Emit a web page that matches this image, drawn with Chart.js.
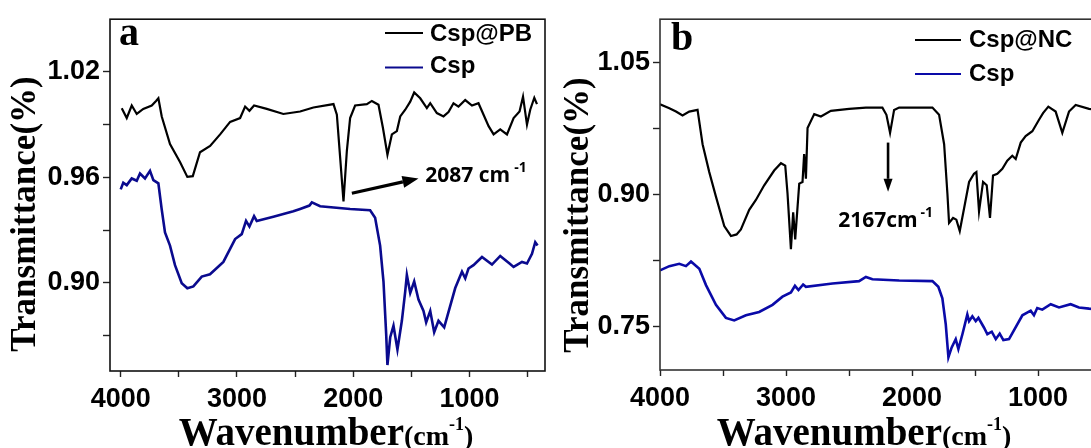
<!DOCTYPE html>
<html>
<head>
<meta charset="utf-8">
<script src="https://cdn.jsdelivr.net/npm/chart.js@4/dist/chart.umd.min.js"></script>
<style>
  html, body { margin: 0; padding: 0; background: #fff; width: 1091px; height: 448px; overflow: hidden; }
  .panel { position: absolute; top: 0; height: 448px; }
  #pa { left: 0; width: 560px; }
  #pb { left: 550px; width: 560px; }
</style>
</head>
<body>
<div class="panel" id="pa"><canvas id="ca"></canvas></div>
<div class="panel" id="pb"><canvas id="cb"></canvas></div>
<script>
// ---------------- Panel a data ----------------
const waveA_PB = [3991,3948,3905,3862,3806,3733,3696,3676,3647,3576,3490,3427,3380,3318,3231,3145,3059,2973,2930,2893,2853,2744,2601,2457,2343,2170,2141,2113,2084,2055,2027,1984,1883,1840,1783,1745,1706,1668,1625,1596,1553,1510,1476,1424,1367,1338,1281,1224,1181,1138,1095,1037,979,923,836,793,736,678,621,570,540,506,478,443,420];
const transA_PB = [0.9992,0.9936,1.0007,0.9959,0.9988,1.0007,1.0033,1.0048,0.9945,0.9788,0.9686,0.9602,0.9606,0.9742,0.9778,0.9843,0.9914,0.9936,1.0001,0.9977,1.0007,0.9988,0.9959,0.9973,0.9996,1.0015,0.9955,0.9714,0.9463,0.9750,0.9936,1.0007,1.0015,1.0033,1.0011,0.9881,0.9728,0.9843,0.9862,0.9945,0.9983,1.0029,1.0081,1.0048,0.9992,1.0020,0.9964,0.9945,0.9970,1.0020,1.0001,1.0038,1.0007,1.0020,0.9890,0.9843,0.9871,0.9843,0.9936,0.9973,1.0057,0.9899,0.9983,1.0051,1.0015];

const waveA_Csp = [4000,3978,3948,3905,3862,3834,3791,3748,3719,3676,3647,3619,3576,3533,3475,3427,3375,3303,3232,3117,3016,2959,2922,2893,2853,2830,2687,2515,2457,2377,2356,2285,2027,1855,1812,1769,1740,1717,1706,1682,1654,1620,1582,1553,1539,1510,1476,1439,1396,1373,1338,1304,1267,1218,1123,1065,1037,1009,966,893,807,736,656,621,549,506,463,435,415];
const transA_Csp = [0.9531,0.9569,0.9555,0.9593,0.9580,0.9621,0.9593,0.9636,0.9583,0.9565,0.9416,0.9286,0.9212,0.9101,0.8998,0.8970,0.8980,0.9036,0.9049,0.9119,0.9249,0.9277,0.9352,0.9320,0.9379,0.9352,0.9376,0.9407,0.9420,0.9439,0.9457,0.9435,0.9420,0.9413,0.9370,0.9212,0.9008,0.8711,0.8534,0.8692,0.8757,0.8622,0.8785,0.8952,0.9045,0.8943,0.9008,0.8906,0.8841,0.8776,0.8841,0.8720,0.8785,0.8748,0.8971,0.9064,0.9026,0.9082,0.9101,0.9147,0.9104,0.9153,0.9110,0.9091,0.9119,0.9110,0.9165,0.9231,0.9212];

// ---------------- Panel b data ----------------
const waveB_NC = [4000,3926,3873,3821,3768,3702,3662,3609,3556,3490,3437,3392,3358,3292,3239,3173,3094,3040,3006,2988,2961,2943,2927,2895,2869,2856,2842,2829,2776,2723,2644,2499,2366,2235,2203,2174,2142,2102,1838,1785,1745,1719,1706,1674,1648,1621,1579,1547,1508,1489,1468,1436,1407,1381,1357,1323,1283,1244,1204,1177,1137,1098,1045,992,960,918,860,807,754,701,595,520];
const transB_NC = [1.0024,0.9979,0.9941,0.9896,0.9941,0.9960,0.9569,0.9252,0.8973,0.8637,0.8525,0.8543,0.8599,0.8823,0.8935,0.9102,0.9270,0.9353,0.9326,0.9010,0.8375,0.8794,0.8487,0.9121,0.9140,0.9457,0.9177,0.9755,0.9912,0.9885,0.9949,0.9971,0.9986,0.9986,0.9904,0.9699,0.9960,0.9986,0.9986,0.9904,0.9569,0.9009,0.8674,0.8730,0.8711,0.8581,0.8898,0.9140,0.9233,0.9252,0.8805,0.9140,0.9102,0.8730,0.9214,0.9233,0.9289,0.9382,0.9438,0.9401,0.9588,0.9661,0.9717,0.9848,0.9923,0.9997,0.9941,0.9699,0.9941,1.0016,0.9971,0.9960];

const waveB_Csp = [4000,3926,3847,3794,3754,3688,3635,3556,3477,3411,3318,3213,3107,3028,2961,2929,2901,2864,2842,2631,2420,2366,2314,2102,1838,1791,1759,1732,1711,1685,1653,1632,1600,1561,1547,1521,1494,1473,1428,1402,1367,1335,1304,1275,1230,1124,1058,1032,1006,966,899,833,741,675,595,520];
const transB_Csp = [0.8134,0.8182,0.8208,0.8182,0.8235,0.8152,0.7966,0.7742,0.7593,0.7564,0.7623,0.7660,0.7742,0.7835,0.7883,0.7958,0.7910,0.7973,0.7947,0.7984,0.8011,0.8059,0.8033,0.8018,0.8011,0.7947,0.7816,0.7519,0.7145,0.7257,0.7351,0.7239,0.7407,0.7631,0.7556,0.7612,0.7556,0.7593,0.7481,0.7407,0.7436,0.7351,0.7414,0.7340,0.7351,0.7623,0.7675,0.7623,0.7705,0.7687,0.7749,0.7712,0.7749,0.7712,0.7698,0.7690];

// ---------------- ticks ----------------
const xTickValues = [4000, 3500, 3000, 2500, 2000, 1500, 1000, 500];
const xTickLabels = [4000, 3000, 2000, 1000];
const yTickValuesA = [0.87, 0.90, 0.93, 0.96, 0.99, 1.02];
const yTickLabelsA = ['1.02', '0.96', '0.90'];
const yTickValuesB = [0.75, 0.825, 0.90, 0.975, 1.05];
const yTickLabelsB = ['1.05', '0.90', '0.75'];
const seriesNamesA = ['Csp@PB', 'Csp'];
const seriesNamesB = ['Csp@NC', 'Csp'];

const toPts = (xs, ys) => xs.map((x, i) => ({ x: x, y: ys[i] }));

function drawArrow(ctx, x1, y1, x2, y2, lw, hl, hw) {
  const ang = Math.atan2(y2 - y1, x2 - x1);
  const bx = x2 - hl * Math.cos(ang), by = y2 - hl * Math.sin(ang);
  ctx.lineWidth = lw;
  ctx.beginPath(); ctx.moveTo(x1, y1); ctx.lineTo(bx, by); ctx.stroke();
  ctx.beginPath();
  ctx.moveTo(x2, y2);
  ctx.lineTo(bx + hw / 2 * Math.sin(ang), by - hw / 2 * Math.cos(ang));
  ctx.lineTo(bx - hw / 2 * Math.sin(ang), by + hw / 2 * Math.cos(ang));
  ctx.closePath(); ctx.fill();
}

const decoPlugin = {
  id: 'deco',
  afterDraw(chart, args, o) {
    const ctx = chart.ctx, a = chart.chartArea;
    const sx = chart.scales.x, sy = chart.scales.y;
    ctx.save();
    // frame
    ctx.strokeStyle = o.frameColor; ctx.lineWidth = 1.6;
    ctx.strokeRect(a.left, a.top, a.right - a.left, a.bottom - a.top);
    ctx.fillStyle = '#000'; ctx.strokeStyle = '#000';
    ctx.textBaseline = 'alphabetic'; ctx.textAlign = 'left';
    // panel letter
    ctx.font = 'bold 40px "Liberation Serif"';
    ctx.fillText(o.letter, a.left + o.letterDx, o.letterY);
    // legend
    ctx.font = 'bold 24px "Liberation Sans"';
    o.legend.forEach((it) => {
      ctx.strokeStyle = it.color; ctx.lineWidth = 2.2;
      ctx.beginPath(); ctx.moveTo(o.legX1, it.ly); ctx.lineTo(o.legX2, it.ly); ctx.stroke();
      ctx.fillStyle = '#000';
      ctx.fillText(it.label, o.legTx, it.ty);
    });
    // y title
    ctx.save();
    ctx.translate(o.yTitleX, o.yTitleY);
    ctx.rotate(-Math.PI / 2);
    ctx.textAlign = 'center'; ctx.textBaseline = 'middle';
    ctx.font = 'bold 35px "Liberation Serif"';
    ctx.fillText('Transmittance(%)', 0, 0);
    ctx.restore();
    // x title with superscript
    const parts = [
      { t: 'Wavenumber', f: 'bold 39px "Liberation Serif"', dy: 0 },
      { t: '(cm', f: 'bold 28px "Liberation Serif"', dy: 0 },
      { t: '-1', f: 'bold 18px "Liberation Serif"', dy: -15 },
      { t: ')', f: 'bold 28px "Liberation Serif"', dy: 0 }
    ];
    let total = 0;
    parts.forEach(p => { ctx.font = p.f; p.w = ctx.measureText(p.t).width; total += p.w; });
    let x = o.xTitleX - total / 2;
    ctx.textAlign = 'left'; ctx.textBaseline = 'alphabetic';
    parts.forEach(p => { ctx.font = p.f; ctx.fillText(p.t, x, o.xTitleY + p.dy); x += p.w; });
    // annotation arrow + label
    const an = o.ann;
    ctx.fillStyle = '#000'; ctx.strokeStyle = '#000';
    drawArrow(ctx, sx.getPixelForValue(an.x1), sy.getPixelForValue(an.y1),
              sx.getPixelForValue(an.x2), sy.getPixelForValue(an.y2), an.lw, an.hl, an.hw);
    const tx = sx.getPixelForValue(an.tx), ty = sy.getPixelForValue(an.ty);
    ctx.font = 'bold 21px "Open Sans"';
    ctx.fillText(an.text, tx, ty);
    const w = ctx.measureText(an.text).width;
    ctx.font = 'bold 14px "Open Sans"';
    ctx.fillText('-1', tx + w + an.supGap, ty - 10);
    ctx.restore();
  }
};

function makeChart(id, cfg) {
  return new Chart(document.getElementById(id), {
    type: 'line',
    data: {
      datasets: cfg.series.map(s => ({
        label: s.name,
        data: toPts(s.xs, s.ys),
        borderColor: s.color,
        borderWidth: s.width,
        pointRadius: 0,
        tension: 0,
        fill: false
      }))
    },
    options: {
      responsive: true,
      maintainAspectRatio: false,
      animation: false,
      devicePixelRatio: 1,
      layout: { padding: { top: 13, right: cfg.padRight, left: 0, bottom: 0 } },
      plugins: {
        legend: { display: false },
        tooltip: { enabled: false },
        deco: cfg.deco
      },
      scales: {
        x: {
          type: 'linear',
          reverse: true,
          min: cfg.xMin, max: cfg.xMax,
          afterBuildTicks: s => { s.ticks = xTickValues.map(v => ({ value: v })); },
          afterFit: s => { s.height = cfg.xAxisH; },
          border: { display: false },
          grid: { drawOnChartArea: false, drawTicks: true, tickLength: 6, tickColor: '#222', tickWidth: 1.4 },
          ticks: {
            autoSkip: false, maxRotation: 0, minRotation: 0,
            padding: 6, color: '#000',
            font: { family: 'Liberation Sans', weight: 'bold', size: 27 },
            callback: v => xTickLabels.includes(v) ? String(v) : ''
          }
        },
        y: {
          type: 'linear',
          min: cfg.yMin, max: cfg.yMax,
          afterBuildTicks: s => { s.ticks = cfg.yTicks.map(v => ({ value: v })); },
          afterFit: s => { s.width = 110; },
          border: { display: false },
          grid: { drawOnChartArea: false, drawTicks: true, tickLength: 7, tickColor: '#222', tickWidth: 1.4 },
          ticks: {
            autoSkip: false,
            padding: 3, color: '#000',
            font: { family: 'Liberation Sans', weight: 'bold', size: 27 },
            callback: v => cfg.yLabels.includes(v.toFixed(2)) ? v.toFixed(2) : ''
          }
        }
      }
    },
    plugins: [decoPlugin]
  });
}

makeChart('ca', {
  series: [
    { name: seriesNamesA[0], xs: waveA_PB, ys: transA_PB, color: '#000000', width: 2.2 },
    { name: seriesNamesA[1], xs: waveA_Csp, ys: transA_Csp, color: '#0a0a8e', width: 2.6 }
  ],
  xMin: 351, xMax: 4092, yMin: 0.85, yMax: 1.0497, yTicks: yTickValuesA, yLabels: yTickLabelsA,
  padRight: 15, xAxisH: 77,
  deco: {
    frameColor: '#111', letter: 'a', letterDx: 9, letterY: 45,
    legX1: 385, legX2: 423, legTx: 430,
    legend: [
      { label: seriesNamesA[0], color: '#000000', ly: 33, ty: 41 },
      { label: seriesNamesA[1], color: '#0a0a8e', ly: 67.5, ty: 73 }
    ],
    yTitleX: 26, yTitleY: 214, xTitleX: 326, xTitleY: 445,
    ann: { x1: 2012, y1: 0.9509, x2: 1439, y2: 0.9593, tx: 1381, ty: 0.9571,
           text: '2087 cm', supGap: 4, lw: 3.2, hl: 16, hw: 12 }
  }
});

makeChart('cb', {
  series: [
    { name: seriesNamesB[0], xs: waveB_NC, ys: transB_NC, color: '#000000', width: 2.2 },
    { name: seriesNamesB[1], xs: waveB_Csp, ys: transB_Csp, color: '#0a0aa8', width: 2.6 }
  ],
  xMin: 500, xMax: 4000, yMin: 0.70, yMax: 1.0992, yTicks: yTickValuesB, yLabels: yTickLabelsB,
  padRight: 9, xAxisH: 78,
  deco: {
    frameColor: '#333', letter: 'b', letterDx: 11, letterY: 50,
    legX1: 365, legX2: 411, legTx: 419,
    legend: [
      { label: seriesNamesB[0], color: '#000000', ly: 40, ty: 47 },
      { label: seriesNamesB[1], color: '#0a0aa8', ly: 74, ty: 81 }
    ],
    yTitleX: 29, yTitleY: 215, xTitleX: 314, xTitleY: 445,
    ann: { x1: 2190, y1: 0.9588, x2: 2190, y2: 0.9028, tx: 2586, ty: 0.8629,
           text: '2167cm', supGap: 3, lw: 2.6, hl: 13, hw: 9 }
  }
});
</script>
</body>
</html>
